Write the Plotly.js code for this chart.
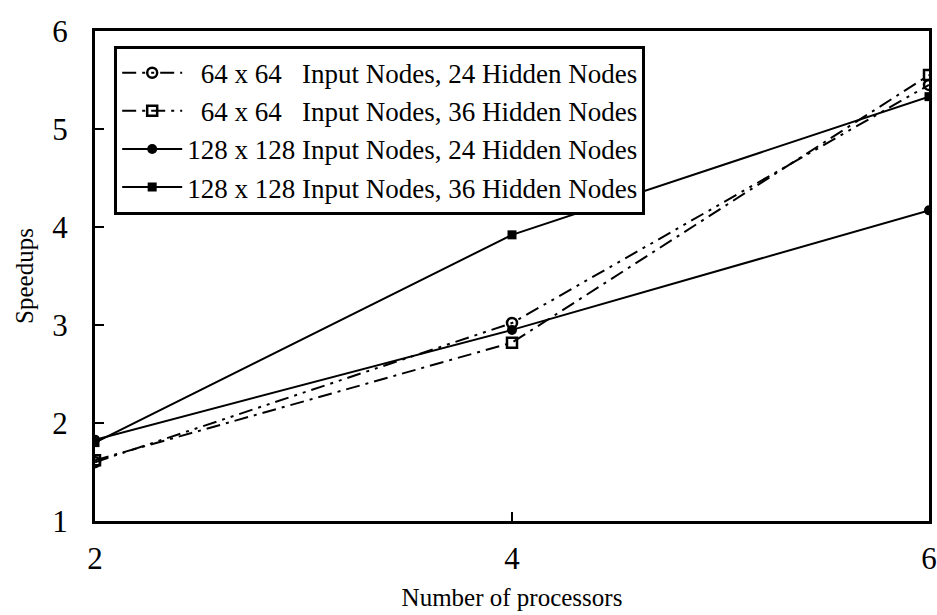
<!DOCTYPE html>
<html>
<head>
<meta charset="utf-8">
<script src="https://cdn.plot.ly/plotly-3.0.1.min.js"></script>
<style>html,body{margin:0;padding:0;background:#fff;}#chart{width:937px;height:615px;}</style>
</head>
<body>
<div id="chart"></div>
<script>
const processors = [2, 4, 6];
const s64_24 = [1.60, 3.02, 5.45];
const s64_36 = [1.62, 2.82, 5.55];
const s128_24 = [1.83, 2.95, 4.17];
const s128_36 = [1.80, 3.92, 5.33];
const names = [
  "\u00a0\u00a064 x 64\u00a0\u00a0\u00a0Input Nodes, 24 Hidden Nodes",
  "\u00a0\u00a064 x 64\u00a0\u00a0\u00a0Input Nodes, 36 Hidden Nodes",
  "128 x 128 Input Nodes, 24 Hidden Nodes",
  "128 x 128 Input Nodes, 36 Hidden Nodes"
];
const yTicks = [1, 2, 3, 4, 5, 6];
const xTicks = [2, 4, 6];

const font = {family: "Liberation Serif, Times New Roman, serif", color: "#000"};
const traces = [
  {x: processors, y: s64_24, name: names[0], mode: "lines+markers",
   line: {color: "#000", width: 2, dash: "14px,6px,3px,6px,3px,6px"},
   marker: {symbol: "circle-open", size: 10, color: "#000", line: {width: 2.5}}},
  {x: processors, y: s64_36, name: names[1], mode: "lines+markers",
   line: {color: "#000", width: 2, dash: "14px,6px,3px,6px"},
   marker: {symbol: "square-open", size: 10, color: "#000", line: {width: 2.5}}},
  {x: processors, y: s128_24, name: names[2], mode: "lines+markers",
   line: {color: "#000", width: 2},
   marker: {symbol: "circle", size: 10, color: "#000"}},
  {x: processors, y: s128_36, name: names[3], mode: "lines+markers",
   line: {color: "#000", width: 2},
   marker: {symbol: "square", size: 9, color: "#000"}}
];

const layout = {
  width: 937, height: 615,
  margin: {l: 95, r: 8, t: 31, b: 94},
  paper_bgcolor: "#fff", plot_bgcolor: "#fff",
  font: Object.assign({size: 24}, font),
  showlegend: true,
  legend: {
    x: 0.023, y: 0.97, xanchor: "left", yanchor: "top",
    bgcolor: "#fff", bordercolor: "#000", borderwidth: 3,
    font: Object.assign({size: 27}, font),
    tracegroupgap: 0, itemwidth: 60
  },
  xaxis: {
    range: [2, 6], tickvals: xTicks, ticktext: xTicks.map(String),
    ticks: "inside", ticklen: 9, tickwidth: 2, tickcolor: "#000",
    showline: true, linecolor: "#000", linewidth: 3, mirror: true,
    showgrid: false, zeroline: false, ticklabelstandoff: 8,
    tickfont: Object.assign({size: 31}, font),
    title: {text: "Number of processors", font: Object.assign({size: 25}, font), standoff: 14}
  },
  yaxis: {
    range: [1, 6], tickvals: yTicks, ticktext: yTicks.map(String),
    ticks: "inside", ticklen: 9, tickwidth: 2, tickcolor: "#000",
    showline: true, linecolor: "#000", linewidth: 3, mirror: true,
    showgrid: false, zeroline: false, ticklabelstandoff: 18,
    tickfont: Object.assign({size: 31}, font),
    title: {text: "Speedups", font: Object.assign({size: 25}, font), standoff: 12}
  }
};
Plotly.newPlot("chart", traces, layout, {displayModeBar: false, staticPlot: true});
</script>
</body>
</html>
